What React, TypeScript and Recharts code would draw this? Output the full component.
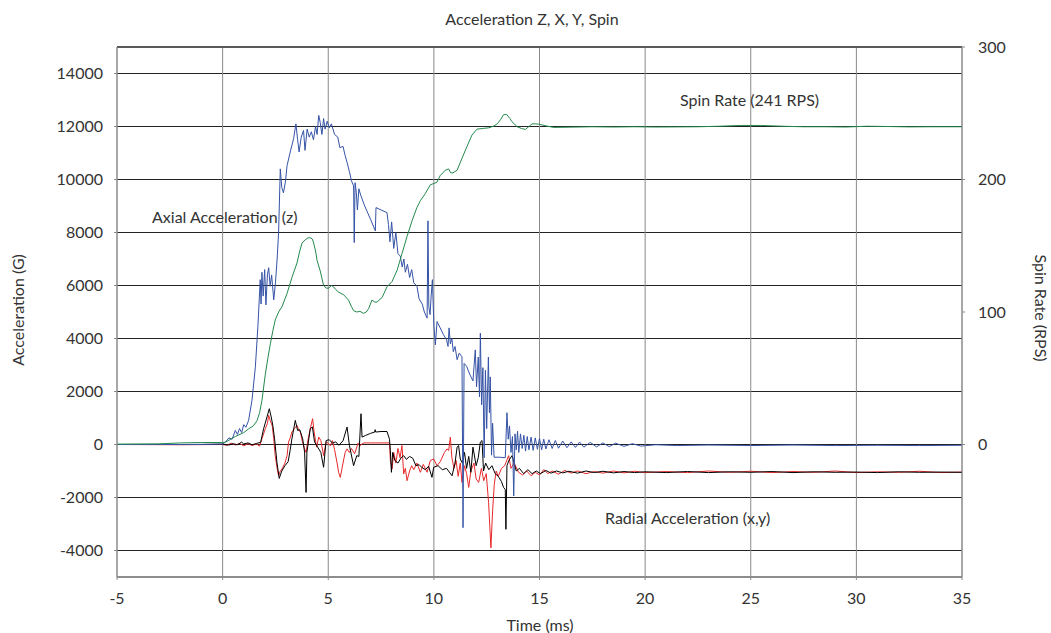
import React from 'react';
import { LineChart, Line, XAxis, YAxis, CartesianGrid, ReferenceLine } from 'recharts';

const timeTicks = [-5, 0, 5, 10, 15, 20, 25, 30, 35];
const accelTicks = [-4000, -2000, 0, 2000, 4000, 6000, 8000, 10000, 12000, 14000];
const spinTicks = [0, 100, 200, 300];

// [time ms, acceleration G]
const axialZ: [number, number][] = [
  [-5, 0], [-3, 0], [-1, 0], [0, 20], [0.13, 90], [0.3, 250], [0.45, 200], [0.6, 530], [0.7, 380], [0.8, 600],
  [0.9, 450], [1.0, 750], [1.1, 650], [1.23, 910], [1.39, 1670], [1.55, 2930], [1.67, 4450], [1.78, 6220], [1.82, 5300],
  [1.86, 6500], [1.92, 5600], [1.99, 6600], [2.05, 5270], [2.12, 6400], [2.18, 6670], [2.25, 5970], [2.32, 6400],
  [2.42, 5460], [2.5, 6100], [2.58, 7000], [2.65, 8000], [2.73, 10400], [2.8, 9700], [2.88, 9500], [2.97, 9900],
  [3.05, 10520], [3.2, 11040], [3.36, 11540], [3.47, 12100], [3.55, 11500], [3.62, 11040], [3.72, 11600], [3.83, 11850],
  [3.9, 11100], [4.0, 11900], [4.1, 11600], [4.2, 11800], [4.3, 11500], [4.4, 12000], [4.47, 11700], [4.55, 12420],
  [4.62, 12150], [4.7, 11700], [4.78, 12300], [4.85, 11900], [4.95, 12200], [5.05, 11950], [5.15, 12100], [5.3, 11700],
  [5.45, 11600], [5.55, 11200], [5.7, 11250], [5.8, 10900], [5.89, 10650], [6.0, 10300], [6.1, 9950], [6.2, 9760],
  [6.23, 7620], [6.27, 9880], [6.33, 9500], [6.38, 8850], [6.45, 9650], [6.52, 9450], [6.7, 9050], [7.0, 8500],
  [7.23, 8060], [7.26, 8940], [7.5, 8850], [7.78, 8750], [7.85, 8300], [7.92, 7650], [8.0, 8400], [8.1, 7400],
  [8.2, 8000], [8.3, 7200], [8.41, 7110], [8.5, 6700], [8.58, 7000], [8.65, 6500], [8.75, 6800], [8.85, 6300],
  [8.95, 6600], [9.05, 6100], [9.2, 5970], [9.3, 5500], [9.45, 5300], [9.55, 5000], [9.68, 4770], [9.72, 8440],
  [9.76, 5200], [9.82, 4900], [9.87, 5600], [9.93, 6220], [10.0, 4500], [10.07, 3760], [10.15, 4640], [10.3, 4400],
  [10.45, 4150], [10.6, 3950], [10.67, 3700], [10.72, 4400], [10.78, 3800], [10.85, 4000], [10.92, 3500], [11.0, 3700],
  [11.1, 3200], [11.2, 3450], [11.33, 3310], [11.38, -3140], [11.43, 3060], [11.55, 2950], [11.7, 2650], [11.85, 2400],
  [11.96, 3570], [12.02, 2180], [12.1, 3300], [12.16, 1800], [12.2, 4200], [12.26, 1500], [12.32, 2900], [12.38, -500],
  [12.44, 2800], [12.5, 600], [12.58, 3300], [12.63, 1200], [12.67, 2550], [12.73, -400], [12.78, 800], [12.85, -480],
  [13.1, -480], [13.38, -500], [13.46, 1200], [13.52, 200], [13.58, 700], [13.65, -300], [13.72, 300], [13.78, -1940],
  [13.84, 400], [13.9, -200], [13.96, 500], [14.02, -300], [14.1, 400], [14.18, -150], [14.26, 350], [14.34, -250],
  [14.42, 300], [14.5, -200], [14.6, 280], [14.7, -220], [14.8, 250], [14.9, -180], [15.0, 230], [15.1, -200],
  [15.2, 200], [15.3, -170], [15.45, 180], [15.6, -150], [15.75, 150], [15.9, -140], [16.1, 130], [16.3, -120],
  [16.5, 100], [16.7, -110], [16.9, 90], [17.1, -100], [17.4, 80], [17.7, -90], [18.0, 60], [18.3, -80], [18.6, 50],
  [19.0, -70], [19.4, 30], [19.8, -60], [20.5, -10], [21.5, -40], [23, -20], [25, -40], [27, -20], [29, -40], [31, -30],
  [33, -40], [35, -30],
];

// [time ms, spin RPS]
const spinRate: [number, number][] = [
  [-5, 0.3], [-3, 0.5], [-2, 1.2], [-1, 1.5], [0, 1.5], [0.13, 1.7], [0.6, 6], [1.0, 9], [1.23, 11.8], [1.45, 14],
  [1.63, 18], [1.75, 24], [1.86, 33], [2.02, 53], [2.15, 66], [2.26, 76], [2.38, 86], [2.49, 94], [2.65, 100],
  [2.81, 104], [3.05, 114], [3.28, 126], [3.52, 137], [3.65, 146], [3.76, 152], [3.91, 154.5], [4.05, 156], [4.15, 156],
  [4.25, 155], [4.31, 152], [4.4, 146], [4.47, 139], [4.62, 131], [4.78, 120], [4.9, 118], [5.02, 118], [5.15, 120],
  [5.25, 119], [5.35, 117], [5.49, 115], [5.73, 113], [5.96, 109], [6.1, 104], [6.2, 101], [6.35, 100], [6.5, 100.5],
  [6.67, 99], [6.8, 100], [6.91, 102.5], [7.07, 109], [7.2, 107.5], [7.31, 107.5], [7.55, 111], [7.78, 119], [8.02, 123],
  [8.26, 131.5], [8.49, 144], [8.73, 157], [8.97, 169], [9.2, 179], [9.36, 184], [9.6, 189.5], [9.83, 196], [10.0, 197],
  [10.15, 198], [10.3, 203], [10.54, 207], [10.7, 208], [10.8, 205], [10.9, 205], [11.1, 207], [11.33, 216], [11.57, 225],
  [11.8, 233.5], [12.04, 238], [12.36, 238.6], [12.6, 239], [12.83, 240.3], [13.0, 242], [13.15, 245], [13.3, 249],
  [13.45, 249], [13.6, 246], [13.7, 243.6], [13.94, 239.8], [14.15, 238.5], [14.33, 237.8], [14.5, 240], [14.65, 242],
  [14.8, 242], [14.96, 241.8], [15.3, 240.5], [15.67, 239.3], [16.5, 239.5], [17.5, 239.8], [18.5, 239.6], [19.5, 239.8],
  [20.5, 239.6], [21.5, 239.7], [22.5, 239.8], [23.5, 240.2], [24.5, 240.8], [25.5, 240.8], [26.5, 240.2], [27.5, 239.8],
  [28.5, 239.8], [29.5, 239.6], [30.5, 240.2], [31.5, 240], [32.5, 239.7], [33.5, 239.8], [35, 239.8],
];

// [time ms, radial acceleration x G]
const radialX: [number, number][] = [
  [-5, 0], [-2, -10], [0, 0], [0.2, -30], [0.4, 50], [0.6, -20], [0.8, 40], [1.0, -50], [1.2, 30], [1.4, -40], [1.6, 20],
  [1.75, -60], [1.86, 215], [2.02, 595], [2.12, 800], [2.18, 1100], [2.25, 910], [2.35, 700], [2.42, 215], [2.49, -420],
  [2.58, -900], [2.65, -1180], [2.73, -1000], [2.81, -925], [2.95, -700], [3.05, -420], [3.12, 90], [3.2, 250],
  [3.28, 470], [3.4, 600], [3.52, 720], [3.6, 560], [3.68, 470], [3.78, 100], [3.88, -165], [3.95, -300], [4.05, 215],
  [4.15, 600], [4.26, 975], [4.33, 470], [4.45, -100], [4.55, 280], [4.65, 150], [4.78, -420], [4.9, 100], [5.0, 50],
  [5.1, -50], [5.2, 150], [5.3, -200], [5.42, -700], [5.49, -1050], [5.57, -1240], [5.7, -700], [5.8, -300], [5.89, -165],
  [6.0, -300], [6.1, -150], [6.25, -350], [6.41, 50], [6.5, -50], [6.6, 25], [6.7, 60], [7.0, 60], [7.5, 60], [7.9, 60],
  [7.94, -607], [8.02, -925], [8.1, -300], [8.2, -700], [8.3, -150], [8.4, -500], [8.49, -40], [8.57, -1110], [8.65, -900],
  [8.73, -1366], [8.85, -1000], [8.95, -800], [9.05, -950], [9.2, -700], [9.36, -1050], [9.5, -750], [9.68, -1050],
  [9.83, -607], [9.99, -545], [10.15, -800], [10.3, -650], [10.5, -300], [10.62, -165], [10.7, -228], [10.78, 280],
  [10.85, -480], [10.95, -900], [11.05, -600], [11.15, -1200], [11.25, -700], [11.33, -1430], [11.45, -800],
  [11.55, -1100], [11.65, -1620], [11.75, -1000], [11.9, -700], [12.0, -1300], [12.12, -1430], [12.25, -900],
  [12.36, -1366], [12.48, -1100], [12.59, -2190], [12.7, -3900], [12.78, -2500], [12.86, -1500], [12.95, -1000],
  [13.05, -1200], [13.2, -900], [13.35, -800], [13.54, -420], [13.65, -900], [13.8, -700], [14.01, -1050], [14.2, -1150],
  [14.4, -1000], [14.6, -1180], [14.8, -1050], [15.0, -1150], [15.2, -950], [15.4, -1100], [15.6, -1000], [15.9, -1120],
  [16.2, -980], [16.5, -1080], [16.8, -1000], [17.2, -1100], [17.6, -1020], [18.0, -1080], [18.5, -1000], [19.0, -1070],
  [19.5, -1010], [20, -1060], [21, -1020], [22, -1060], [23, -1000], [24, -1050], [25, -1010], [26, -1060], [27, -1020],
  [28, -1050], [29, -1000], [30, -1060], [31, -1030], [32, -1050], [33, -1010], [34, -1060], [35, -1040],
];

// [time ms, radial acceleration y G]
const radialY: [number, number][] = [
  [-5, 0], [-2, 0], [0, 10], [0.3, -20], [0.5, 30], [0.7, -10], [0.9, 90], [1.0, 20], [1.2, 60], [1.4, -10], [1.6, 40],
  [1.8, 80], [1.94, 595], [2.1, 1040], [2.21, 1350], [2.3, 1040], [2.38, 700], [2.46, 215], [2.57, -670], [2.68, -1280],
  [2.8, -1000], [2.95, -800], [3.1, -650], [3.2, -200], [3.28, 215], [3.44, 910], [3.55, 530], [3.65, 560], [3.79, 215],
  [3.88, -290], [3.95, -1810], [3.99, -290], [4.15, 595], [4.25, 660], [4.35, 100], [4.5, -100], [4.65, -300],
  [4.78, -860], [4.9, 150], [5.05, 180], [5.2, 50], [5.35, 100], [5.5, -30], [5.7, 140], [5.89, 660], [6.0, -30],
  [6.2, -800], [6.35, -420], [6.45, -450], [6.55, 1160], [6.6, 280], [6.76, 340], [7.0, 420], [7.2, 470], [7.22, 560],
  [7.24, 470], [7.5, 490], [7.78, 490], [7.9, 200], [7.94, -230], [7.99, -1050], [8.05, -300], [8.15, -600], [8.3, -700],
  [8.45, -500], [8.57, -420], [8.7, -560], [8.85, -450], [9.0, -520], [9.15, -800], [9.3, -760], [9.45, -880],
  [9.6, -950], [9.75, -820], [9.91, -1240], [9.99, -860], [10.2, -800], [10.4, -950], [10.6, -900], [10.86, -1180],
  [11.0, -700], [11.1, -100], [11.17, -40], [11.25, -550], [11.35, -700], [11.45, -300], [11.55, -900], [11.65, -450],
  [11.75, -1050], [11.85, -100], [12.0, -800], [12.1, -500], [12.2, 90], [12.28, 150], [12.35, -1000], [12.45, -700],
  [12.6, -950], [12.75, -800], [12.9, -1100], [13.05, -1200], [13.2, -1400], [13.3, -1620], [13.38, -1700],
  [13.41, -3200], [13.46, -800], [13.55, -600], [13.7, -420], [13.8, -700], [13.9, -1000], [14.05, -900], [14.25, -1100],
  [14.45, -950], [14.65, -1100], [14.85, -1000], [15.05, -1100], [15.3, -980], [15.55, -1080], [15.8, -1000],
  [16.1, -1070], [16.4, -1010], [16.8, -1080], [17.2, -1000], [17.6, -1060], [18.0, -1010], [18.5, -1070], [19, -1020],
  [19.5, -1060], [20, -1030], [21, -1060], [22, -1020], [23, -1060], [24, -1030], [25, -1050], [26, -1020], [27, -1060],
  [28, -1030], [29, -1050], [30, -1040], [31, -1060], [32, -1030], [33, -1050], [34, -1040], [35, -1050],
];

const toRows = (pairs: [number, number][]) => pairs.map(([t, v]) => ({ t, v }));

const FONT = 'Lato, "Open Sans", sans-serif';
const TEXT = '#333';

export default function App() {
  const tickStyle = { fill: TEXT, fontSize: 16 };
  return (
    <div style={{ position: 'absolute', left: 0, top: 0, width: 1051, height: 633, background: '#fff', fontFamily: FONT }}>
      <LineChart width={1051} height={633} margin={{ top: 47, right: 29, bottom: 26, left: 57 }}>
        <CartesianGrid yAxisId="left" vertical={false} stroke="#222" strokeOpacity={1} />
        <CartesianGrid yAxisId="left" horizontal={false} stroke="#8a8a8a" strokeOpacity={1} />
        <XAxis
          type="number"
          dataKey="t"
          domain={[-5, 35]}
          ticks={timeTicks}
          interval={0}
          allowDataOverflow
          height={30}
          stroke="#8a8a8a"
          tickSize={3}
          tickMargin={13}
          tick={tickStyle}
        />
        <YAxis
          yAxisId="left"
          domain={[-5000, 15000]}
          ticks={accelTicks}
          interval={0}
          allowDataOverflow
          width={60}
          stroke="#8a8a8a"
          tickSize={3}
          tickMargin={11}
          tick={tickStyle}
        />
        <YAxis
          yAxisId="right"
          orientation="right"
          domain={[-100, 300]}
          ticks={spinTicks}
          interval={0}
          allowDataOverflow
          width={60}
          stroke="#8a8a8a"
          tickSize={3}
          tickMargin={13}
          tick={tickStyle}
        />
        <ReferenceLine yAxisId="left" y={15000} stroke="#222" />
        <Line data={toRows(radialX)} dataKey="v" yAxisId="left" type="linear" stroke="#e8282a" strokeWidth={1} dot={false} isAnimationActive={false} />
        <Line data={toRows(radialY)} dataKey="v" yAxisId="left" type="linear" stroke="#000000" strokeWidth={1} dot={false} isAnimationActive={false} />
        <Line data={toRows(axialZ)} dataKey="v" yAxisId="left" type="linear" stroke="#3553a6" strokeWidth={1} dot={false} isAnimationActive={false} />
        <Line data={toRows(spinRate)} dataKey="v" yAxisId="right" type="linear" stroke="#23894c" strokeWidth={1} dot={false} isAnimationActive={false} />
      </LineChart>
      <svg width={1051} height={633} style={{ position: 'absolute', left: 0, top: 0, pointerEvents: 'none' }}>
        <g fill={TEXT} fontSize={16} fontFamily={FONT}>
          <text x={532} y={25} textAnchor="middle">Acceleration Z, X, Y, Spin</text>
          <text x={540} y={631} textAnchor="middle">Time (ms)</text>
          <text transform="translate(24,310) rotate(-90)" textAnchor="middle">Acceleration (G)</text>
          <text transform="translate(1035,308) rotate(90)" textAnchor="middle">Spin Rate (RPS)</text>
          <text x={152} y={223}>Axial Acceleration (z)</text>
          <text x={680} y={106}>Spin Rate (241 RPS)</text>
          <text x={605} y={524}>Radial Acceleration (x,y)</text>
        </g>
      </svg>
    </div>
  );
}
